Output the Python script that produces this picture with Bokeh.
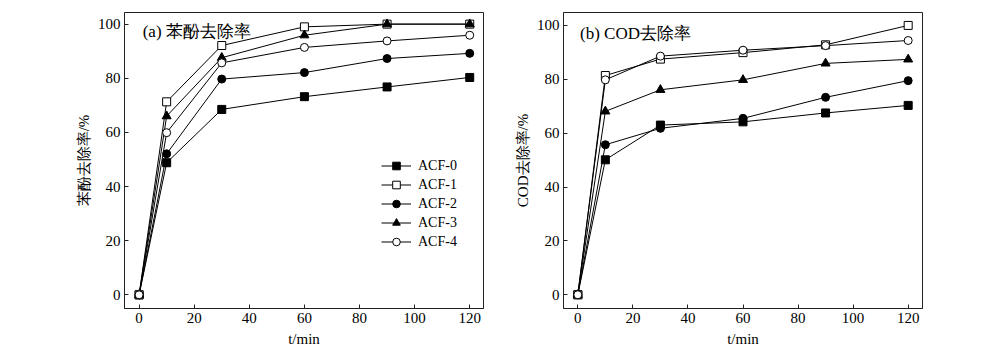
from bokeh.plotting import figure
from bokeh.layouts import row
from bokeh.models import Range1d, Legend, LegendItem, Label, FixedTicker
from bokeh.embed import file_html
from bokeh.resources import INLINE

t = [0, 10, 30, 60, 90, 120]
series_names = ["ACF-0", "ACF-1", "ACF-2", "ACF-3", "ACF-4"]

phenol_acf0 = [0, 48.8, 68.5, 73.2, 76.8, 80.3]
phenol_acf1 = [0, 71.3, 92.1, 99.0, 100.0, 100.0]
phenol_acf2 = [0, 52.1, 79.7, 82.1, 87.3, 89.2]
phenol_acf3 = [0, 66.0, 87.6, 95.9, 100.0, 100.0]
phenol_acf4 = [0, 59.9, 85.7, 91.4, 93.8, 95.9]

cod_acf0 = [0, 50.1, 63.0, 64.2, 67.5, 70.3]
cod_acf1 = [0, 81.4, 87.5, 89.9, 92.8, 100.0]
cod_acf2 = [0, 55.7, 61.8, 65.5, 73.3, 79.5]
cod_acf3 = [0, 68.1, 76.1, 79.8, 85.9, 87.4]
cod_acf4 = [0, 79.8, 88.6, 90.8, 92.5, 94.4]

x_ticks = [0, 20, 40, 60, 80, 100, 120]
y_ticks = [0, 20, 40, 60, 80, 100]

SERIF = "Liberation Serif"
markers = [("square", "black"), ("square", "white"), ("circle", "black"),
           ("triangle", "black"), ("circle", "white")]
sizes = [8, 8, 8, 9, 8]


def make_fig(series, xr, yr, ylabel, panel_text, panel_xy, bl, br, legend=False):
    p = figure(width=500, height=352, output_backend="svg", toolbar_location=None,
               x_range=Range1d(*xr), y_range=Range1d(*yr),
               min_border_left=bl, min_border_right=br, min_border_top=12,
               min_border_bottom=44)
    p.grid.visible = False
    p.outline_line_color = "#222222"
    p.outline_line_width = 1
    p.background_fill_color = "white"
    for ax in (p.xaxis[0], p.yaxis[0]):
        ax.major_tick_in = 4
        ax.major_tick_out = 0
        ax.minor_tick_in = 0
        ax.minor_tick_out = 0
        ax.axis_line_color = "#222222"
        ax.major_tick_line_color = "#222222"
        ax.major_label_text_font = SERIF
        ax.major_label_text_font_size = "15px"
        ax.major_label_text_color = "black"
        ax.major_label_standoff = 4
        ax.axis_label_text_font = SERIF
        ax.axis_label_text_font_style = "normal"
        ax.axis_label_text_font_size = "15px"
        ax.axis_label_text_color = "black"
    p.xaxis[0].ticker = FixedTicker(ticks=x_ticks)
    p.yaxis[0].ticker = FixedTicker(ticks=y_ticks)
    p.yaxis[0].axis_label = ylabel
    p.yaxis[0].axis_label_standoff = 3
    p.xaxis[0].axis_label = "t/min"
    p.xaxis[0].axis_label_standoff = 5

    items = []
    for (vals, name), (mk, fill), sz in zip(zip(series, series_names), markers, sizes):
        ln = p.line(t, vals, line_color="black", line_width=1)
        sc = p.scatter(t, vals, marker=mk, size=sz, fill_color=fill, line_color="black",
                       line_width=1)
        items.append(LegendItem(label=name, renderers=[ln, sc]))

    if legend:
        lg = Legend(items=items, location=(257, 57), glyph_width=30, glyph_height=19,
                    label_height=19, spacing=0, padding=0, margin=0,
                    label_text_font=SERIF, label_text_font_size="14px",
                    label_text_color="black",
                    label_standoff=7, border_line_color=None,
                    background_fill_alpha=0)
        p.add_layout(lg, "center")

    p.add_layout(Label(x=panel_xy[0], y=panel_xy[1], text=panel_text, text_font=SERIF,
                       text_color="black",
                       text_font_size="17px", text_baseline="middle", text_align="left"))
    return p


p1 = make_fig([phenol_acf0, phenol_acf1, phenol_acf2, phenol_acf3, phenol_acf4],
              (-5.3, 125), (-5.05, 104.3), "苯酚去除率/%", "(a) 苯酚去除率", (1.3, 97.3),
              124, 17, legend=True)
p2 = make_fig([cod_acf0, cod_acf1, cod_acf2, cod_acf3, cod_acf4],
              (-5.2, 125.2), (-5.1, 104.8), "COD去除率/%", "(b) COD去除率", (0.8, 97.0),
              63, 78)

layout = row(p1, p2)
open("out.html", "w").write(file_html(layout, INLINE))
